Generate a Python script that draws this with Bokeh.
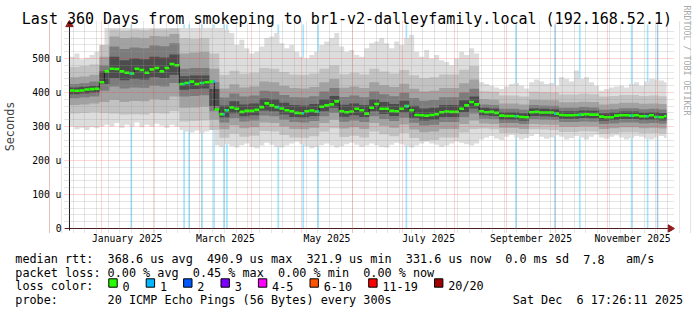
import math
import pandas as pd
from bokeh.plotting import figure
from bokeh.layouts import column, row
from bokeh.models import (Range1d, FixedTicker, DatetimeTickFormatter, Grid, Label, BoxAnnotation,
                          Title)
from bokeh.embed import file_html
from bokeh.resources import INLINE

FONT = "DejaVu Sans Mono"

# ---------------------------------------------------------------- data
data_start = "2024-12-12 20:18"
data_end = "2025-12-06 09:00"
bin3_first = "2024-12-12 20:00"          # 3-day consolidation bins
bin6_first = "2024-12-12 20:00"          # 6-day bins for the inner smoke
graph_max = 600                           # rrdtool upper limit (microseconds)

# median rtt per 3-day bin (microseconds)
median_rtt = [
    406, 405, 406, 409, 410, 411, 430, 462, 470, 469,
    462, 458, 456, 470, 466, 458, 468, 472, 462, 472,
    484, 480, 425, 428, 432, 425, 428, 430, 432, 350,
    336, 348, 356, 352, 343, 346, 346, 349, 357, 368,
    362, 357, 353, 348, 345, 340, 339, 345, 347, 344,
    358, 362, 365, 374, 345, 342, 344, 352, 348, 338,
    355, 366, 352, 352, 346, 345, 352, 360, 348, 334,
    333, 332, 334, 336, 342, 344, 343, 343, 352, 362,
    372, 365, 345, 342, 343, 340, 332, 331, 331, 330,
    328, 327, 342, 343, 341, 341, 341, 338, 334, 333,
    333, 334, 335, 336, 335, 335, 329, 327, 327, 332,
    333, 333, 332, 333, 330, 330, 333, 328, 327, 330,
]
# slowest / fastest ping per 3-day bin
smoke_max = [
    505, 515, 498, 502, 510, 520, 528, 590, 590, 590,
    590, 590, 590, 590, 590, 590, 590, 590, 590, 590,
    590, 590, 590, 590, 590, 590, 590, 590, 590, 590,
    590, 585, 575, 540, 555, 530, 515, 520, 535, 560,
    565, 575, 545, 530, 540, 520, 505, 500, 510, 520,
    540, 550, 560, 575, 535, 520, 525, 510, 505, 530,
    545, 550, 560, 545, 530, 550, 540, 560, 570, 520,
    505, 525, 500, 510, 495, 490, 480, 500, 520, 510,
    530, 515, 430, 425, 420, 415, 410, 418, 425, 428,
    420, 412, 430, 438, 432, 425, 428, 420, 445, 440,
    432, 465, 440, 445, 430, 420, 405, 410, 415, 418,
    420, 415, 425, 430, 420, 432, 440, 438, 435, 430,
]
smoke_min = [
    300, 292, 296, 290, 298, 295, 300, 305, 300, 310,
    296, 305, 300, 312, 298, 305, 300, 308, 302, 296,
    305, 300, 290, 285, 282, 288, 280, 285, 290, 245,
    240, 248, 242, 238, 245, 250, 240, 236, 244, 252,
    246, 240, 238, 244, 250, 255, 248, 242, 236, 240,
    245, 250, 244, 238, 242, 248, 252, 246, 240, 244,
    250, 245, 240, 238, 246, 252, 248, 242, 238, 244,
    250, 255, 250, 246, 240, 244, 250, 256, 252, 248,
    244, 250, 262, 268, 272, 265, 260, 270, 275, 268,
    262, 266, 272, 278, 270, 264, 268, 274, 270, 262,
    266, 272, 268, 262, 270, 276, 268, 264, 270, 274,
    268, 262, 266, 272, 270, 265, 262, 268, 272, 266,
]
# inner smoke bands per 6-day bin (outer -> inner)
smoke_lo2 = [338, 340, 342, 340, 338, 335, 336, 335, 340, 338, 345, 315, 316, 318, 290,
             267, 279, 270, 273, 287, 285, 275, 268, 267, 271, 285, 295, 269, 273, 268,
             285, 277, 271, 281, 266, 258, 260, 268, 268, 282, 293, 294, 292, 281, 281,
             278, 292, 291, 290, 284, 284, 286, 285, 278, 280, 283, 283, 280, 281, 279]
smoke_hi2 = [475, 478, 482, 540, 585, 582, 585, 584, 586, 585, 588, 560, 558, 560, 515,
             452, 464, 455, 458, 472, 470, 460, 453, 452, 456, 470, 480, 454, 458, 453,
             470, 462, 456, 466, 451, 443, 445, 453, 453, 467, 478, 404, 402, 391, 391,
             388, 402, 401, 400, 394, 394, 396, 395, 388, 390, 393, 393, 390, 391, 389]
smoke_lo3 = [363, 365, 368, 372, 378, 372, 375, 374, 380, 378, 388, 355, 356, 358, 320,
             292, 304, 295, 298, 312, 310, 300, 293, 292, 296, 310, 320, 294, 298, 293,
             310, 302, 296, 306, 291, 283, 285, 293, 293, 307, 318, 309, 307, 296, 296,
             293, 307, 306, 305, 299, 299, 301, 300, 293, 295, 298, 298, 295, 296, 294]
smoke_hi3 = [445, 447, 452, 505, 565, 560, 562, 560, 566, 565, 572, 515, 518, 520, 470,
             412, 424, 415, 418, 432, 430, 420, 413, 412, 416, 430, 440, 414, 418, 413,
             430, 422, 416, 426, 411, 403, 405, 413, 413, 427, 438, 381, 379, 368, 368,
             365, 379, 378, 377, 371, 371, 373, 372, 365, 367, 370, 370, 367, 368, 366]
smoke_lo4 = [383, 385, 388, 405, 418, 412, 415, 414, 420, 418, 428, 388, 390, 392, 345,
             312, 324, 315, 318, 332, 330, 320, 313, 312, 316, 330, 340, 314, 318, 313,
             330, 322, 316, 326, 311, 303, 305, 313, 313, 327, 338, 323, 321, 310, 310,
             307, 321, 320, 319, 313, 313, 315, 314, 307, 309, 312, 312, 309, 310, 308]
smoke_hi4 = [425, 427, 432, 480, 535, 528, 532, 530, 538, 536, 545, 470, 472, 472, 430,
             385, 397, 388, 391, 405, 403, 393, 386, 385, 389, 403, 413, 387, 391, 386,
             403, 395, 389, 399, 384, 376, 378, 386, 386, 400, 411, 365, 363, 352, 352,
             349, 363, 362, 361, 355, 355, 357, 356, 349, 351, 354, 354, 351, 352, 350]
smoke_lo5 = [395, 397, 400, 425, 442, 436, 440, 438, 445, 443, 452, 408, 410, 412, 360,
             327, 339, 330, 333, 347, 345, 335, 328, 327, 331, 345, 355, 329, 333, 328,
             345, 337, 331, 341, 326, 318, 320, 328, 328, 342, 353, 333, 331, 320, 320,
             317, 331, 330, 329, 323, 323, 325, 324, 317, 319, 322, 322, 319, 320, 318]
smoke_hi5 = [415, 417, 420, 462, 505, 495, 500, 498, 505, 503, 512, 448, 450, 450, 410,
             362, 374, 365, 368, 382, 380, 370, 363, 362, 366, 380, 390, 364, 368, 363,
             380, 372, 366, 376, 361, 353, 355, 363, 363, 377, 388, 355, 353, 342, 342,
             339, 353, 352, 351, 345, 345, 347, 346, 339, 341, 344, 344, 341, 342, 340]

# days with packet loss (start of the 1-day step) and number of lost pings
loss_starts = [
    "2025-01-18 11:00", "2025-02-19 04:20", "2025-02-22 04:20", "2025-03-01 23:00",
    "2025-03-09 03:20", "2025-03-15 03:00", "2025-03-16 22:00", "2025-04-16 18:00",
    "2025-05-01 17:00", "2025-05-10 16:30", "2025-07-02 16:00", "2025-09-06 12:00",
    "2025-09-29 20:00", "2025-10-14 19:00", "2025-11-14 22:00", "2025-11-24 12:00",
    "2025-11-30 12:00",
]
loss_pings = [1, 1, 1, 1, 1, 1, 1, 1, 1, 1, 1, 1, 1, 1, 1, 1, 1]

loss_names = ["0", "1", "2", "3", "4-5", "6-10", "11-19", "20/20"]
loss_cols = ["#26ff00", "#00b8ff", "#0059ff", "#7e00ff", "#ff00ff", "#ff5500", "#ff0000", "#a00000"]
loss_lower = [0, 1, 2, 3, 4, 6, 11, 20]

y_ticks = [0, 100, 200, 300, 400, 500]
y_labels = ["0", "100 u", "200 u", "300 u", "400 u", "500 u"]
label_months = ["2025-01", "2025-03", "2025-05", "2025-07", "2025-09", "2025-11"]

title_text = "Last 360 Days from smokeping to br1-v2-dalleyfamily.local (192.168.52.1)"
credit_text = "RRDTOOL / TOBI OETIKER"
line1 = [("median rtt:", 0), ("368.6 us avg", 13), ("490.9 us max", 27), ("321.9 us min", 41),
         ("331.6 us now", 55), ("0.0 ms sd", 69), ("7.8", 80), ("am/s", 86)]
line2 = [("packet loss:", 0), ("0.00 % avg", 13), ("0.45 % max", 25), ("0.00 % min", 37),
         ("0.00 % now", 49)]
line4 = [("probe:", 0), ("20 ICMP Echo Pings (56 Bytes) every 300s", 13)]
stamp = [("Sat Dec", 0), ("6 17:26:11 2025", 9)]

# ---------------------------------------------------------------- geometry
DAY = 86400000.0
PXD = 1.6707          # pixels per day in the reference
PXU = 0.34            # pixels per microsecond


def ms(t):
    return pd.Timestamp(t).value / 1e6


t0 = ms(data_start)
t_end = ms(data_end)
x_lo = t0 - 5 / PXD * DAY
x_hi = t0 + 607 / PXD * DAY
y_lo = -4 / PXU
y_hi = 208 / PXU


def steps(starts, width, lo, hi=None):
    xs, a, b = [], [], []
    for i, s in enumerate(starts):
        e = min(s + width, t_end)
        if e <= s:
            continue
        xs += [s, e]
        a += [lo[i], lo[i]]
        if hi is not None:
            b += [hi[i], hi[i]]
    return xs, a, b


p = figure(width=697, height=246, output_backend="svg", toolbar_location=None,
           x_axis_type="datetime", x_range=Range1d(x_lo, x_hi), y_range=Range1d(y_lo, y_hi),
           min_border_left=62, min_border_right=23, min_border_top=20, min_border_bottom=14)
p.background_fill_color = "white"
p.border_fill_color = "white"
p.outline_line_color = None

b3 = [ms(t) for t in pd.date_range(bin3_first, periods=len(median_rtt), freq="3D")]
b6 = [ms(t) for t in pd.date_range(bin6_first, periods=len(smoke_lo2), freq="6D")]

# loss bars (full height, behind the smoke)
ls = [ms(t) for t in loss_starts]
p.quad(left=ls, right=[s + DAY for s in ls], bottom=0, top=graph_max,
       fill_color="#00b8ff", fill_alpha=0.37, line_color=None)

# smoke
xs, lo, hi = steps(b3, 3 * DAY, smoke_min, smoke_max)
p.varea(x=xs, y1=lo, y2=hi, fill_color="#dddddd")
for lo_l, hi_l, col in [(smoke_lo2, smoke_hi2, "#c2c2c2"), (smoke_lo3, smoke_hi3, "#a2a2a2"),
                        (smoke_lo4, smoke_hi4, "#7c7c7c"), (smoke_lo5, smoke_hi5, "#4c4c4c")]:
    xs, lo, hi = steps(b6, 6 * DAY, lo_l, hi_l)
    p.varea(x=xs, y1=lo, y2=hi, fill_color=col)

# median
xs, ys, _ = steps(b3, 3 * DAY, median_rtt)
p.line(xs, ys, line_color="#202020", line_width=1)
p.segment(x0=b3, x1=[min(s + 3 * DAY, t_end) for s in b3], y0=median_rtt, y1=median_rtt,
          line_color=loss_cols[0], line_width=2.6)


def loss_colour(n):
    c = loss_cols[0]
    for low, col in zip(loss_lower, loss_cols):
        if n >= low:
            c = col
    return c


lx, ly, lc = [], [], []
for s, n in zip(ls, loss_pings):
    k = min(int((s - b3[0]) // (3 * DAY)), len(median_rtt) - 1)
    lx.append(s)
    ly.append(median_rtt[k])
    lc.append(loss_colour(n))
p.segment(x0=lx, x1=[s + DAY for s in lx], y0=ly, y1=ly, line_color=lc, line_width=2.6)

# grids (drawn over the graph, as rrdtool does)
minor_grey = "#9a9a9a"
major_red = "#ff3030"
sundays = [ms(t) for t in pd.date_range("2024-12-01", "2025-12-31", freq="W-SUN")]
month_starts = pd.date_range("2024-12-01", "2026-01-01", freq="MS")
p.xgrid.visible = False
g1 = Grid(dimension=0, ticker=FixedTicker(ticks=sundays), grid_line_color=minor_grey,
          grid_line_alpha=0.5, grid_line_dash="1 1", level="guide")
g2 = Grid(dimension=0, ticker=FixedTicker(ticks=[ms(t) for t in month_starts]),
          grid_line_color=major_red, grid_line_alpha=0.42, grid_line_dash="1 1", level="guide")
p.add_layout(g1)
p.add_layout(g2)

y_minor = [v for v in range(20, graph_max + 1, 20) if v % 100]
yt = FixedTicker(ticks=y_ticks, minor_ticks=y_minor)
p.ygrid.ticker = yt
p.ygrid.level = "guide"
p.ygrid.grid_line_color = major_red
p.ygrid.grid_line_alpha = 0.42
p.ygrid.grid_line_dash = "1 1"
p.ygrid.minor_grid_line_color = minor_grey
p.ygrid.minor_grid_line_alpha = 0.5
p.ygrid.minor_grid_line_dash = "1 1"

# axis lines and arrows (rrdtool style)
axis_col = "#1a1a1a"
arrow_col = "#8b1a1a"
p.segment(x0=[x_lo, t0], x1=[x_hi, t0], y0=[0, y_lo + 2 / PXU], y1=[0, y_hi],
          line_color=axis_col, line_width=1)
p.scatter(x=[t0], y=[graph_max], marker="triangle", size=7.4, fill_color=arrow_col,
          line_color=arrow_col)
p.scatter(x=[x_hi - 4.2 / PXD * DAY], y=[0], marker="triangle", size=7.4, angle=-math.pi / 2,
          fill_color=arrow_col, line_color=arrow_col)

# axes
mid = []
for m in label_months:
    a = pd.Timestamp(m + "-01")
    b = a + pd.offsets.MonthBegin(1)
    mid.append(ms(a + (b - a) / 2))
p.xaxis.ticker = FixedTicker(ticks=mid)
fmt = "%B %Y"
p.xaxis.formatter = DatetimeTickFormatter(microseconds=fmt, milliseconds=fmt, seconds=fmt,
                                          minsec=fmt, minutes=fmt, hourmin=fmt, hours=fmt,
                                          days=fmt, months=fmt, years=fmt)
for ax in (p.xaxis, p.yaxis):
    ax.axis_line_color = None
    ax.major_tick_line_color = None
    ax.minor_tick_line_color = None
    ax.major_label_text_font = FONT
    ax.major_label_text_font_size = "9.75px"
    ax.major_label_text_color = "#000000"
    ax.major_tick_out = 0
    ax.major_tick_in = 0
    ax.minor_tick_out = 0
    ax.minor_tick_in = 0
p.xaxis.major_label_standoff = 0
p.yaxis.ticker = yt
p.yaxis.major_label_overrides = {t: s for t, s in zip(y_ticks, y_labels)}
p.yaxis.major_label_standoff = 3
p.yaxis.axis_label = "Seconds"
p.yaxis.axis_label_text_font = FONT
p.yaxis.axis_label_text_font_size = "11.8px"
p.yaxis.axis_label_text_font_style = "normal"
p.yaxis.axis_label_standoff = 12

# title
p.title.text = title_text
p.title.align = "left"
p.title.offset = -42.7
p.title.standoff = -15
p.title.text_font = FONT
p.title.text_font_size = "15px"
p.title.text_font_style = "normal"
p.title.text_color = "#000000"

# rrdtool credit, vertical on the right
p.add_layout(Title(text=credit_text, align="left", offset=-15, standoff=10, vertical_align="top",
                   text_font=FONT, text_font_size="8.3px", text_font_style="normal",
                   text_color="#aaaaaa"), "right")


def label(fig, s, x, y, size, color="#000000", align="left", baseline="alphabetic", angle=0.0):
    fig.add_layout(Label(x=x, y=y, x_units="canvas", y_units="canvas", text=s, text_font=FONT,
                         text_font_size=size, text_color=color, text_align=align,
                         text_baseline=baseline, angle=angle))


# legend block
leg = figure(width=697, height=64, output_backend="svg", toolbar_location=None,
             x_range=Range1d(0, 697), y_range=Range1d(0, 64), min_border=0,
             x_axis_location=None, y_axis_location=None)
leg.grid.visible = False
leg.outline_line_color = None
leg.background_fill_color = "white"
leg.border_fill_color = "white"

TOP = 246
CW = 7.1
LX = 14.8
base = [258.5 - TOP, 272.2 - TOP, 285.9 - TOP, 299.6 - TOP]
for line, y in [(line1, base[0]), (line2, base[1]), (line4, base[3])]:
    for s, col in line:
        label(leg, s, LX + col * CW, y, "11.8px")
for s, col in stamp:
    label(leg, s, 512.2 + col * CW, base[3], "11.8px")

label(leg, "loss color:", LX, base[2], "11.8px")
bx = 108.3
for name, col in zip(loss_names, loss_cols):
    leg.add_layout(BoxAnnotation(left=bx, right=bx + 8.4, top=278.3 - TOP, bottom=286.7 - TOP,
                                 left_units="canvas", right_units="canvas", top_units="canvas",
                                 bottom_units="canvas", fill_color=col, fill_alpha=1,
                                 line_color="#000000", line_width=1, line_alpha=1))
    label(leg, name, bx + 13.7, base[2], "11.8px")
    bx += 14.7 + len(name) * CW + 15.6

layout = column(row(p), leg)
open("out.html", "w").write(file_html(layout, INLINE))
